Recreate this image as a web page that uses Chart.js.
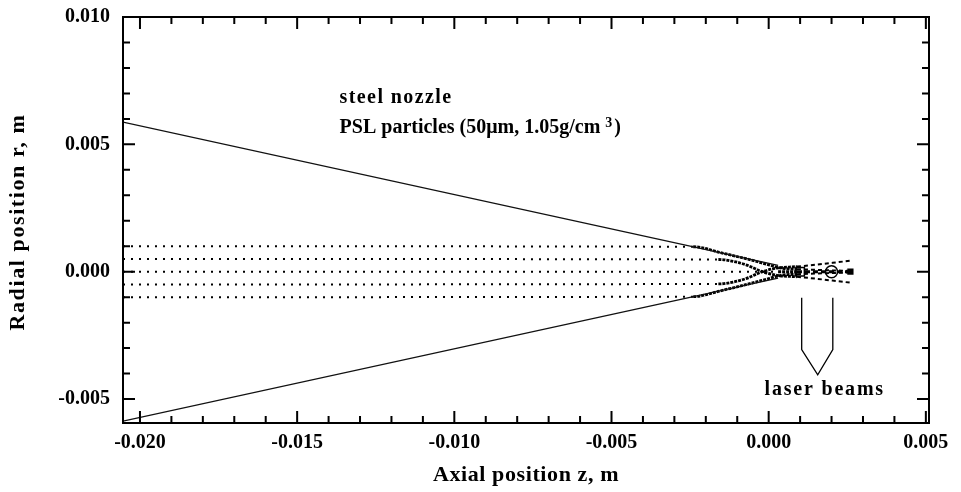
<!DOCTYPE html>
<html>
<head>
<meta charset="utf-8">
<script src="https://cdn.jsdelivr.net/npm/chart.js@4.4.1/dist/chart.umd.min.js"></script>
<style>
  html, body { margin: 0; padding: 0; background: #fff; }
</style>
</head>
<body>
<canvas id="chart" width="961" height="492"></canvas>
<script>
//*** DATA ***//
// nozzle wall (upper and lower contour)
const nozzleZ = [-0.02054, 0.0003];
const wallTopR = [0.00587, 0.00025];
const wallBottomR = [-0.00587, -0.00025];

// particle started at r = +/-1 mm
const outerZ = [-0.02054, -0.0024, -0.0015, -0.0006, 0.0000, 0.0004, 0.0009, 0.0018, 0.0026];
const outerTopR = [0.00100, 0.00098, 0.00074, 0.00047, 0.00027, 0.00014, 0.00010, 0.00006, 0.00003];
const outerBottomR = [-0.00100, -0.00098, -0.00074, -0.00047, -0.00027, -0.00014, -0.00010, -0.00006, -0.00003];

// particle started at r = +/-0.5 mm
const innerZ = [-0.02054, -0.0016, -0.0011, -0.0007, -0.0002, 0.0003, 0.0009, 0.0026];
const innerTopR = [0.00050, 0.00048, 0.00040, 0.00026, 0.00000, -0.00015, -0.00020, -0.00043];
const innerBottomR = [-0.00050, -0.00048, -0.00040, -0.00026, 0.00000, 0.00015, 0.00020, 0.00043];

// particle on the axis
const axisZ = [-0.02054, 0.0003, 0.0009, 0.0026];
const axisR = [0, 0, 0, 0];

// measuring volumes
const probeZ = [0.001, 0.002];
const probeR = [0, 0];

// laser beam sketch
const beamZ = [0.00105, 0.00105, 0.00156, 0.00204, 0.00204];
const beamR = [-0.00102, -0.00306, -0.00405, -0.00306, -0.00102];

// ticks
const xTicks = [-0.020, -0.015, -0.010, -0.005, 0.000, 0.005];
const yTicks = [-0.005, 0.000, 0.005, 0.010];

//*** FUNCTIONS ***//
const pts = (zs, rs) => zs.map((z, i) => ({ x: z, y: rs[i] }));

const dotDash = ctx => {
    if (ctx.p0DataIndex === 0) return [2, 6];
    return ctx.p0.parsed.x >= 0.0009 ? [4, 3] : [3, 1];
};

const trajectory = (zs, rs) => ({
    data: pts(zs, rs),
    showLine: true,
    borderColor: '#000',
    borderWidth: 2,
    pointRadius: 0,
    cubicInterpolationMode: 'monotone',
    segment: {
        borderDash: dotDash,
        borderWidth: ctx => (ctx.p0DataIndex === 0 || ctx.p0.parsed.x >= 0.0009) ? 2 : 2.8
    }
});

const serif = size => `bold ${size}px "Liberation Serif", "Times New Roman", serif`;

const drawSpaced = (ctx, text, x, y, spacing) => {
    ctx.letterSpacing = spacing + 'px';
    ctx.fillText(text, x, y);
    const w = ctx.measureText(text).width;
    ctx.letterSpacing = '0px';
    return w;
};

// frame with inward ticks on all four sides, labels and notes
const framePlugin = {
    id: 'framePlugin',
    afterDatasetsDraw(chart) {
        const { ctx, chartArea: a, scales: { x, y } } = chart;
        ctx.save();
        ctx.strokeStyle = '#000';
        ctx.lineWidth = 2;
        ctx.strokeRect(a.left, a.top, a.right - a.left, a.bottom - a.top);
        ctx.beginPath();
        for (let i = -20; i <= 5; i++) {
            const px = x.getPixelForValue(i / 1000);
            const len = i % 5 === 0 ? 12 : 7;
            ctx.moveTo(px, a.bottom); ctx.lineTo(px, a.bottom - len);
            ctx.moveTo(px, a.top); ctx.lineTo(px, a.top + len);
        }
        for (let i = -5; i <= 10; i++) {
            const py = y.getPixelForValue(i / 1000);
            const len = i % 5 === 0 ? 12 : 7;
            ctx.moveTo(a.left, py); ctx.lineTo(a.left + len, py);
            ctx.moveTo(a.right, py); ctx.lineTo(a.right - len, py);
        }
        ctx.stroke();

        ctx.fillStyle = '#000';
        ctx.textBaseline = 'middle';
        ctx.textAlign = 'left';

        // notes
        ctx.font = serif(20);
        const nx = x.getPixelForValue(-0.01365);
        drawSpaced(ctx, 'steel nozzle', nx, y.getPixelForValue(0.00681), 1.4);
        const ly = y.getPixelForValue(0.00563);
        let w = drawSpaced(ctx, 'PSL particles (50\u03bcm, 1.05g/cm ', nx, ly, 0);
        ctx.font = serif(14);
        const w3 = drawSpaced(ctx, '3', nx + w, ly - 5, 0);
        ctx.font = serif(20);
        drawSpaced(ctx, ')', nx + w + w3 + 2, ly, 0);

        drawSpaced(ctx, 'laser beams', x.getPixelForValue(-0.00013), y.getPixelForValue(-0.00462), 1.8);

        // axis titles
        ctx.font = serif(22);
        ctx.textAlign = 'center';
        drawSpaced(ctx, 'Axial position z, m', (a.left + a.right) / 2, 475, 0.6);
        ctx.translate(18, (a.top + a.bottom) / 2 + 2);
        ctx.rotate(-Math.PI / 2);
        drawSpaced(ctx, 'Radial position r, m', 0, 0, 1.6);
        ctx.restore();
    }
};

//*** CHART ***//
const elem = document.getElementById('chart');

new Chart(elem, {
    type: 'scatter',
    data: {
        datasets: [
            { data: pts(nozzleZ, wallTopR), showLine: true, borderColor: '#111', borderWidth: 1.3, pointRadius: 0 },
            { data: pts(nozzleZ, wallBottomR), showLine: true, borderColor: '#111', borderWidth: 1.3, pointRadius: 0 },
            trajectory(outerZ, outerTopR),
            trajectory(outerZ, outerBottomR),
            trajectory(innerZ, innerTopR),
            trajectory(innerZ, innerBottomR),
            {
                data: pts(axisZ, axisR),
                showLine: true,
                borderColor: '#000',
                borderWidth: 2,
                pointRadius: [0, 0, 0, 3],
                pointStyle: 'rect',
                pointBackgroundColor: '#000',
                segment: {
                    borderDash: ctx => ctx.p0DataIndex === 0 ? [2, 6] : (ctx.p0DataIndex === 1 ? [3, 1] : [5, 3]),
                    borderWidth: ctx => ctx.p0DataIndex === 0 ? 2 : 3
                }
            },
            {
                data: pts(probeZ, probeR),
                showLine: false,
                pointStyle: ['rect', 'circle'],
                pointRadius: [6, 6],
                pointBorderWidth: 1.5,
                pointBorderColor: '#000',
                pointBackgroundColor: 'rgba(0,0,0,0)'
            },
            { data: pts(beamZ, beamR), showLine: true, borderColor: '#000', borderWidth: 1.3, pointRadius: 0 }
        ]
    },
    options: {
        responsive: false,
        animation: false,
        devicePixelRatio: 1,
        layout: { padding: { left: 5, right: 32, top: 17, bottom: 0 } },
        plugins: { legend: { display: false }, tooltip: { enabled: false } },
        scales: {
            x: {
                type: 'linear',
                min: -0.02054,
                max: 0.0051,
                grid: { display: false, drawTicks: false },
                border: { display: false },
                afterBuildTicks: s => { s.ticks = xTicks.map(v => ({ value: v })); },
                afterFit: s => { s.height = 69; s.paddingLeft = 0; s.paddingRight = 0; },
                ticks: {
                    padding: 8,
                    color: '#000',
                    font: { family: '"Liberation Serif", serif', size: 20, weight: 'bold' },
                    callback: v => v.toFixed(3)
                }
            },
            y: {
                type: 'linear',
                min: -0.00594,
                max: 0.010,
                grid: { display: false, drawTicks: false },
                border: { display: false },
                afterBuildTicks: s => { s.ticks = yTicks.map(v => ({ value: v })); },
                afterFit: s => { s.width = 118; s.paddingTop = 0; s.paddingBottom = 0; },
                ticks: {
                    padding: 13,
                    color: '#000',
                    font: { family: '"Liberation Serif", serif', size: 20, weight: 'bold' },
                    callback: v => v.toFixed(3)
                }
            }
        }
    },
    plugins: [framePlugin]
});
</script>
</body>
</html>
